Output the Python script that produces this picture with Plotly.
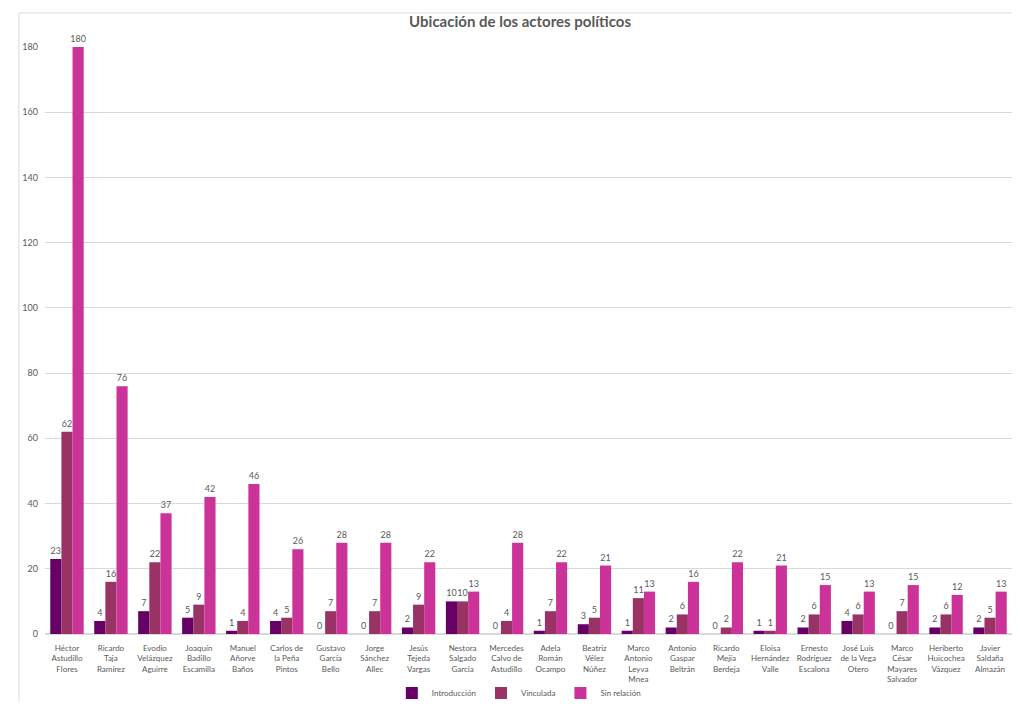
import plotly.graph_objects as go

nombres = [
    "Héctor<br>Astudillo<br>Flores", "Ricardo<br>Taja<br>Ramírez", "Evodio<br>Velázquez<br>Aguirre",
    "Joaquín<br>Badillo<br>Escamilla", "Manuel<br>Añorve<br>Baños", "Carlos de<br>la Peña<br>Pintos",
    "Gustavo<br>García<br>Bello", "Jorge<br>Sánchez<br>Allec", "Jesús<br>Tejeda<br>Vargas",
    "Nestora<br>Salgado<br>García", "Mercedes<br>Calvo de<br>Astudillo", "Adela<br>Román<br>Ocampo",
    "Beatriz<br>Vélez<br>Núñez", "Marco<br>Antonio<br>Leyva<br>Mnea", "Antonio<br>Gaspar<br>Beltrán",
    "Ricardo<br>Mejía<br>Berdeja", "Eloisa<br>Hernández<br>Valle", "Ernesto<br>Rodríguez<br>Escalona",
    "José Luis<br>de la Vega<br>Otero", "Marco<br>César<br>Mayares<br>Salvador",
    "Heriberto<br>Huicochea<br>Vázquez", "Javier<br>Saldaña<br>Almazán",
]
introduccion = [23, 4, 7, 5, 1, 4, 0, 0, 2, 10, 0, 1, 3, 1, 2, 0, 1, 2, 4, 0, 2, 2]
vinculada = [62, 16, 22, 9, 4, 5, 7, 7, 9, 10, 4, 7, 5, 11, 6, 2, 1, 6, 6, 7, 6, 5]
sin_relacion = [180, 76, 37, 42, 46, 26, 28, 28, 22, 13, 28, 22, 21, 13, 16, 22, 21, 15, 13, 15, 12, 13]

y_ticks = [0, 20, 40, 60, 80, 100, 120, 140, 160, 180]

series = [
    ("Introducción", introduccion, "#660066"),
    ("Vinculada", vinculada, "#993366"),
    ("Sin relación", sin_relacion, "#CC3399"),
]

fig = go.Figure()
for name, vals, color in series:
    fig.add_trace(go.Bar(
        x=nombres, y=vals, name=name,
        marker=dict(color=color, line=dict(width=0)),
        text=[str(v) for v in vals],
        textposition="outside",
        constraintext="none",
        textfont=dict(size=9, color="#595959"),
        cliponaxis=False,
    ))

# page body has an 8px margin, so the figure is sized to fit inside the window
fig.update_layout(
    barmode="group",
    bargap=0.24,
    bargroupgap=0,
    width=1004, height=693,
    autosize=False,
    paper_bgcolor="white",
    plot_bgcolor="white",
    font=dict(family="Lato, Open Sans, sans-serif", color="#595959"),
    title=dict(
        text="<b>Ubicación de los actores políticos</b>",
        x=0.51, xanchor="center", y=0.98, yanchor="middle",
        font=dict(size=15, color="#595959"),
    ),
    margin=dict(l=37, r=0, t=39, b=67, autoexpand=False),
    xaxis=dict(
        showgrid=False, showline=False, ticks="",
        tickfont=dict(size=8, color="#595959"),
        tickangle=0,
        ticklabelstandoff=8,
    ),
    yaxis=dict(
        range=[0, 180],
        tickvals=y_ticks,
        gridcolor="#d9d9d9",
        zeroline=True, zerolinecolor="#d9d9d9",
        showline=False, ticks="",
        tickfont=dict(size=9, color="#595959"),
        ticklabelstandoff=6,
    ),
    legend=dict(
        orientation="h",
        x=0.49, xanchor="center",
        y=-0.076, yanchor="top",
        bgcolor="rgba(0,0,0,0)",
        font=dict(size=8, color="#595959"),
        itemwidth=30,
        traceorder="normal",
    ),
    showlegend=True,
    shapes=[dict(
        type="rect", xref="paper", yref="paper",
        x0=-0.027, x1=1.05, y0=-0.3, y1=1.058,
        line=dict(color="#d9d9d9", width=1),
    )],
)

fig.write_html("out.html")
